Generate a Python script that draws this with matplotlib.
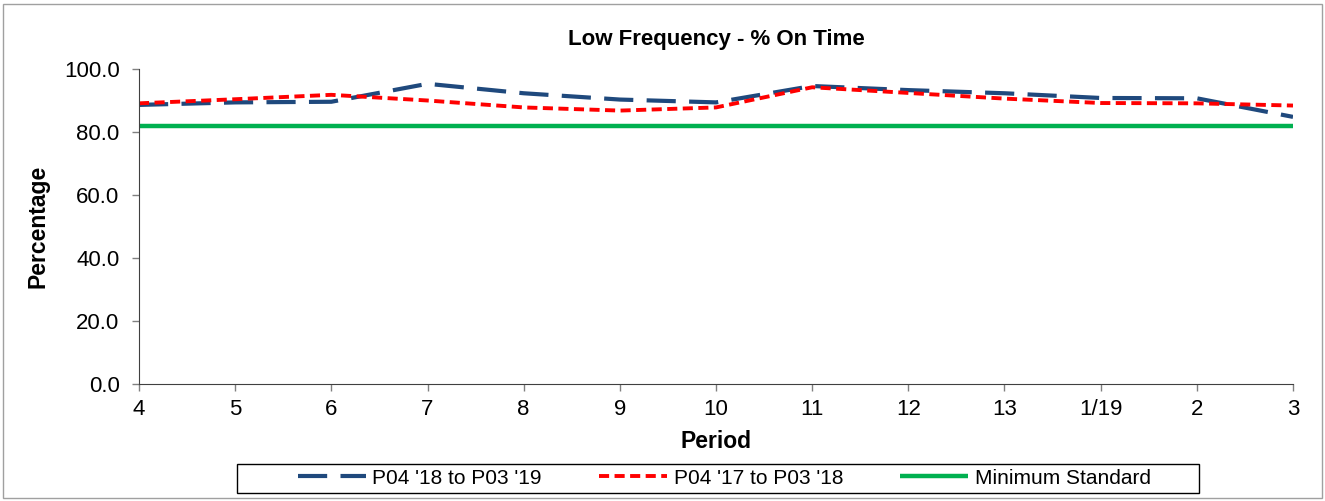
import numpy as np
import matplotlib.pyplot as plt

plt.rcParams['font.family'] = ['Liberation Sans', 'DejaVu Sans']

# Periods and on-time percentages
periods = ['4', '5', '6', '7', '8', '9', '10', '11', '12', '13', '1/19', '2', '3']
p18_19 = [88.6, 89.4, 89.6, 95.3, 92.3, 90.3, 89.4, 94.6, 93.3, 92.3, 90.8, 90.7, 84.8]
p17_18 = [89.1, 90.4, 91.8, 90.0, 87.8, 86.8, 87.8, 94.2, 92.4, 90.6, 89.2, 89.1, 88.4]
min_standard = [82.0] * len(periods)

W, H = 1325, 501
fig = plt.figure(figsize=(W / 100, H / 100), dpi=100)
ax = fig.add_axes([139/W, 1 - 384/H, (1293-139)/W, (384-69)/H])

x = np.arange(len(periods))
ax.plot(x, p18_19, color='#1F497D', lw=3, dashes=(7, 3.2), label="P04 '18 to P03 '19")
ax.plot(x, p17_18, color='#FF0000', lw=2.8, dashes=(2.6, 1.4), label="P04 '17 to P03 '18")
ax.plot(x, min_standard, color='#00B050', lw=3.2, solid_capstyle='butt', label='Minimum Standard')

ax.set_xlim(0, len(periods) - 1)
ax.set_ylim(0, 100)
ax.set_xticks(x)
ax.set_xticklabels(periods)
ax.set_yticks(np.arange(0, 101, 20))
ax.set_yticklabels([f'{v:.1f}' for v in np.arange(0, 101, 20)])
ax.tick_params(axis='y', labelsize=16, length=5, width=1, color='#808080', pad=9)
ax.tick_params(axis='x', labelsize=16, length=5, width=1, color='#808080', pad=6)
for s in ['top', 'right']:
    ax.spines[s].set_visible(False)
for s in ['left', 'bottom']:
    ax.spines[s].set_color('#404040')

ax.set_title('Low Frequency - % On Time', fontsize=16, fontweight='bold', pad=17)
ax.set_xlabel('Period', fontsize=16.5, fontweight='bold', labelpad=7)
ax.set_ylabel('Percentage', fontsize=16.5, fontweight='bold', labelpad=10)

# legend entries placed without frame, box drawn separately (Excel style wide padding)
leg = ax.legend(loc='center left', bbox_to_anchor=(298/W, 1 - 478/H), bbox_transform=fig.transFigure,
                ncol=3, fontsize=15, frameon=False, handlelength=3.27, handletextpad=0.3,
                columnspacing=2.75, borderpad=0, borderaxespad=0)
fig.patches.append(plt.Rectangle((237/W, 1 - 493/H), (1199-237)/W, 29/H, transform=fig.transFigure,
                                 fill=False, edgecolor='black', lw=1))

# thin outer border around the chart
fig.patches.append(plt.Rectangle((3/W, 3/H), 1 - 6/W, 1 - 7/H, transform=fig.transFigure,
                                 fill=False, edgecolor='#A0A0A0', lw=1))

fig.savefig('out.png', dpi=100)
